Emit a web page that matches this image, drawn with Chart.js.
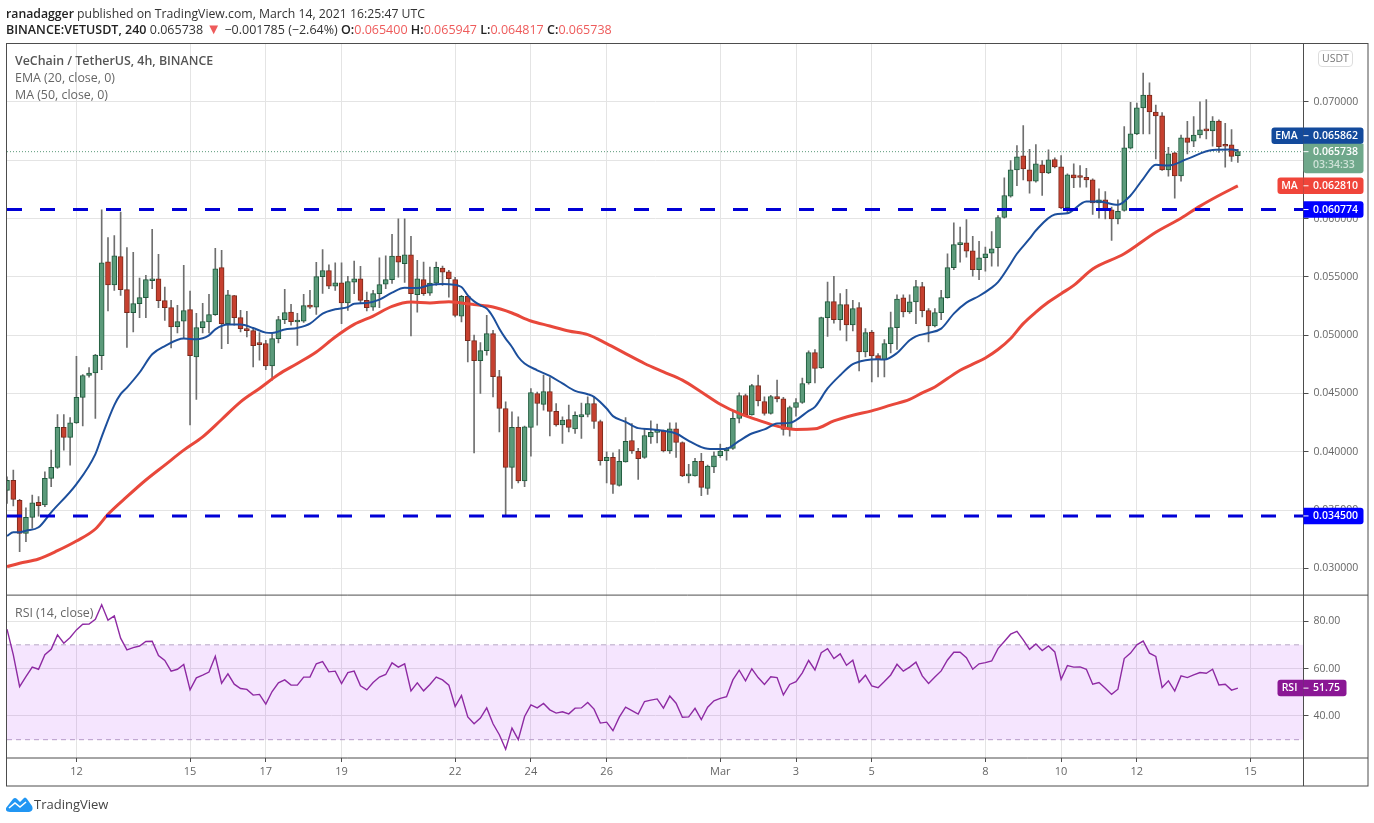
<!DOCTYPE html>
<html>
<head>
<meta charset="utf-8">
<title>VETUSDT</title>
<script src="https://cdn.jsdelivr.net/npm/chart.js@4"></script>
<style>
  html, body { margin: 0; padding: 0; background: #fff; }
  #wrap { position: relative; width: 1374px; height: 823px; overflow: hidden; font-family: "Open Sans", sans-serif; }
  canvas { position: absolute; left: 0; top: 0; }
  .txt { position: absolute; white-space: nowrap; line-height: 17px; font-size: 12.25px; color: #333; }
  .txt b { color: #222; font-weight: 600; }
  .red { color: #ee5b5b; }
  .tri { color: #ee5b5b; font-size: 15px; line-height: 10px; }
  .legend { color: #666; font-size: 12.4px; }
  .legend b { color: #555; }
  #usdt { position: absolute; left: 1318px; top: 50px; width: 33px; height: 15px; border: 1px solid #ddd; border-radius: 4px; font-size: 10.5px; line-height: 15px; text-align: center; color: #777; background: #fff; }
</style>
</head>
<body>
<div id="wrap">
  <canvas id="chart" width="1374" height="823"></canvas>
  <div class="txt" style="left:6px;top:4.5px"><b>ranadagger</b> published on TradingView.com, March 14, 2021 16:25:47 UTC</div>
  <div class="txt" style="left:6px;top:21px;font-size:12.5px"><b>BINANCE:VETUSDT, 240</b> 0.065738 <span class="tri">▼</span> −0.001785 (−2.64%) <b>O:</b><span class="red">0.065400</span> <b>H:</b><span class="red">0.065947</span> <b>L:</b><span class="red">0.064817</span> <b>C:</b><span class="red">0.065738</span></div>
  <div class="txt legend" style="left:15px;top:52px"><b>VeChain / TetherUS, 4h, BINANCE</b></div>
  <div class="txt legend" style="left:15px;top:69px">EMA (20, close, 0)</div>
  <div class="txt legend" style="left:15px;top:86px">MA (50, close, 0)</div>
  <div class="txt legend" style="left:15px;top:604px">RSI (14, close)</div>
  <div id="usdt">USDT</div>
  <svg style="position:absolute;left:6px;top:796px" width="27" height="17" viewBox="0 0 27 17">
    <path d="M0 12 L7 3 Q9 1 11 3 L14 6 L17 3 Q19 0 21 3 L26 10 Q28 15 23 16 L4 16 Q-1 16 0 12 Z" fill="#2196f3"/>
    <path d="M3 12 L9 7 L14 11 L20 6" stroke="#fff" stroke-width="1.6" fill="none"/>
  </svg>
  <div class="txt" style="left:34px;top:796px;font-size:13px;color:#444">TradingView</div>
</div>
<script>
// candle 0 is 12 Feb 00:00, one candle every 4h
const firstCandle = -11;

const opens = [
  0.03669,0.03755,0.03584,0.03301,0.03438,0.03567,0.03544,0.03772,0.03866,0.04209,
  0.04123,0.04248,0.04466,0.04654,0.04676,0.04825,0.05630,0.05430,0.05673,0.05390,
  0.05193,0.05270,0.05322,0.05467,0.05484,0.05296,0.05236,0.05074,0.05121,0.05219,
  0.04813,0.05065,0.05113,0.05176,0.05579,0.05099,0.05339,0.05151,0.05048,0.05039,
  0.04928,0.04928,0.04736,0.04971,0.05133,0.05198,0.05113,0.05121,0.05253,0.05241,
  0.05502,0.05553,0.05421,0.05450,0.05276,0.05455,0.05484,0.05299,0.05241,0.05356,
  0.05438,0.05476,0.05678,0.05613,0.05690,0.05347,0.05476,0.05361,0.05447,0.05575,
  0.05544,0.05476,0.05164,0.05333,0.04954,0.04782,0.04868,0.05014,0.04645,0.04371,
  0.03866,0.04209,0.03751,0.04209,0.04500,0.04406,0.04517,0.04346,0.04231,0.04277,
  0.04197,0.04300,0.04320,0.04414,0.04260,0.03923,0.03952,0.03712,0.03914,0.04097,
  0.04003,0.03952,0.04128,0.04166,0.04175,0.04008,0.04197,0.04080,0.03794,0.03794,
  0.03918,0.03686,0.03871,0.03966,0.04008,0.04029,0.04286,0.04483,0.04317,0.04568,
  0.04431,0.04329,0.04474,0.04454,0.04192,0.04380,0.04423,0.04591,0.04851,0.04719,
  0.05151,0.05288,0.05133,0.05262,0.05087,0.05236,0.04856,0.05027,0.04825,0.04791,
  0.04928,0.05065,0.05320,0.05200,0.05286,0.05416,0.05211,0.05079,0.05193,0.05322,
  0.05579,0.05776,0.05793,0.05724,0.05562,0.05664,0.05704,0.05750,0.06009,0.06192,
  0.06418,0.06538,0.06418,0.06320,0.06461,0.06392,0.06506,0.06443,0.06092,0.06375,
  0.06358,0.06354,0.06332,0.06135,0.06161,0.06075,0.05998,0.06069,0.06603,0.06726,
  0.06949,0.07060,0.06914,0.06880,0.06418,0.06563,0.06366,0.06692,0.06663,0.06717,
  0.06769,0.06752,0.06837,0.06628,0.06632,0.065400
];
const highs = [
  0.03786,0.03843,0.03592,0.03520,0.03629,0.03615,0.03829,0.04014,0.04320,0.04320,
  0.04294,0.04819,0.04663,0.04722,0.04836,0.06075,0.05838,0.05855,0.06055,0.05752,
  0.05710,0.05490,0.05513,0.05907,0.05693,0.05413,0.05299,0.05256,0.05598,0.05378,
  0.05187,0.05273,0.05350,0.05744,0.05727,0.05384,0.05342,0.05213,0.05204,0.05065,
  0.05022,0.04956,0.05008,0.05162,0.05393,0.05264,0.05187,0.05350,0.05384,0.05624,
  0.05735,0.05604,0.05621,0.05621,0.05504,0.05635,0.05590,0.05370,0.05384,0.05664,
  0.05681,0.05864,0.05998,0.05998,0.05847,0.05641,0.05627,0.05584,0.05627,0.05592,
  0.05556,0.05496,0.05342,0.05342,0.05000,0.04937,0.05170,0.05042,0.04699,0.04428,
  0.04342,0.04300,0.04220,0.04543,0.04513,0.04657,0.04637,0.04414,0.04300,0.04400,
  0.04342,0.04417,0.04471,0.04471,0.04271,0.04000,0.03991,0.04020,0.04294,0.04243,
  0.04029,0.04200,0.04265,0.04237,0.04186,0.04248,0.04248,0.04085,0.03892,0.03943,
  0.03986,0.03886,0.04000,0.04066,0.04038,0.04342,0.04505,0.04494,0.04579,0.04657,
  0.04471,0.04485,0.04614,0.04466,0.04391,0.04457,0.04633,0.04865,0.04877,0.05156,
  0.05455,0.05504,0.05356,0.05393,0.05299,0.05279,0.05056,0.05042,0.04842,0.04962,
  0.05198,0.05347,0.05346,0.05347,0.05470,0.05453,0.05228,0.05228,0.05384,0.05698,
  0.05964,0.05926,0.05992,0.05847,0.05804,0.05755,0.05889,0.06026,0.06349,0.06497,
  0.06626,0.06797,0.06594,0.06634,0.06497,0.06589,0.06521,0.06540,0.06384,0.06469,
  0.06455,0.06431,0.06341,0.06255,0.06232,0.06098,0.06161,0.06789,0.06996,0.06991,
  0.07248,0.07163,0.06974,0.06908,0.06611,0.06569,0.06717,0.06834,0.06874,0.07002,
  0.07020,0.06874,0.06846,0.06817,0.06763,0.065947
];
const lows = [
  0.03558,0.03535,0.03144,0.03229,0.03346,0.03449,0.03529,0.03700,0.03858,0.04014,
  0.03886,0.04243,0.04222,0.04639,0.04286,0.04705,0.05207,0.05384,0.05342,0.04894,
  0.05027,0.05151,0.05151,0.05399,0.05236,0.05127,0.04890,0.05019,0.04973,0.04231,
  0.04449,0.05019,0.05019,0.05170,0.04885,0.04928,0.05085,0.05027,0.04985,0.04728,
  0.04785,0.04705,0.04614,0.04933,0.05099,0.05085,0.04913,0.05110,0.05230,0.05179,
  0.05359,0.05399,0.05384,0.05099,0.05213,0.05356,0.05273,0.05207,0.05213,0.05236,
  0.05399,0.05444,0.05498,0.05453,0.04993,0.05198,0.05342,0.05342,0.05427,0.05427,
  0.05327,0.05156,0.05113,0.04770,0.03991,0.04500,0.04828,0.04471,0.04171,0.03458,
  0.03686,0.03734,0.03700,0.03963,0.04228,0.04357,0.04137,0.04220,0.04072,0.04171,
  0.04157,0.04115,0.04300,0.04200,0.03886,0.03734,0.03644,0.03706,0.03912,0.03986,
  0.03764,0.03943,0.04072,0.04077,0.04000,0.03986,0.03952,0.03786,0.03734,0.03792,
  0.03623,0.03635,0.03820,0.03952,0.03929,0.04020,0.04248,0.04306,0.04314,0.04394,
  0.04314,0.04323,0.04428,0.04143,0.04134,0.04306,0.04414,0.04579,0.04591,0.04714,
  0.04990,0.05104,0.05042,0.04950,0.05036,0.04693,0.04813,0.04599,0.04642,0.04642,
  0.04847,0.04877,0.05156,0.05187,0.05099,0.05156,0.04942,0.05070,0.05133,0.05318,
  0.05562,0.05627,0.05669,0.05507,0.05476,0.05550,0.05592,0.05592,0.06003,0.06183,
  0.06283,0.06332,0.06217,0.06312,0.06198,0.06384,0.06435,0.06084,0.06041,0.06264,
  0.06269,0.06269,0.06035,0.06003,0.05998,0.05812,0.05955,0.06063,0.06598,0.06720,
  0.06726,0.06726,0.06512,0.06412,0.06363,0.06175,0.06320,0.06555,0.06617,0.06692,
  0.06683,0.06620,0.06568,0.06440,0.06491,0.064817
];
const closes = [
  0.03755,0.03592,0.03301,0.03438,0.03563,0.03537,0.03772,0.03866,0.04209,0.04123,
  0.04248,0.04466,0.04654,0.04676,0.04830,0.05621,0.05430,0.05681,0.05390,0.05193,
  0.05270,0.05322,0.05476,0.05484,0.05296,0.05236,0.05070,0.05116,0.05211,0.04825,
  0.05065,0.05116,0.05176,0.05570,0.05099,0.05347,0.05151,0.05056,0.05039,0.04911,
  0.04919,0.04736,0.04971,0.05133,0.05193,0.05116,0.05119,0.05253,0.05241,0.05502,
  0.05553,0.05421,0.05450,0.05276,0.05459,0.05484,0.05299,0.05236,0.05356,0.05433,
  0.05476,0.05678,0.05627,0.05690,0.05356,0.05484,0.05356,0.05447,0.05581,0.05541,
  0.05484,0.05170,0.05333,0.04954,0.04782,0.04868,0.05014,0.04645,0.04371,0.03866,
  0.04209,0.03751,0.04214,0.04508,0.04414,0.04517,0.04346,0.04231,0.04271,0.04209,
  0.04312,0.04320,0.04414,0.04260,0.03923,0.03952,0.03721,0.03918,0.04089,0.04008,
  0.03940,0.04140,0.04166,0.04186,0.04008,0.04197,0.04080,0.03794,0.03800,0.03918,
  0.03695,0.03877,0.03966,0.04006,0.04029,0.04286,0.04483,0.04317,0.04568,0.04437,
  0.04329,0.04474,0.04454,0.04192,0.04380,0.04423,0.04586,0.04851,0.04714,0.05151,
  0.05288,0.05133,0.05262,0.05087,0.05228,0.04856,0.05022,0.04822,0.04791,0.04928,
  0.05065,0.05310,0.05200,0.05286,0.05416,0.05211,0.05079,0.05193,0.05322,0.05579,
  0.05776,0.05782,0.05721,0.05562,0.05664,0.05698,0.05741,0.06009,0.06198,0.06418,
  0.06529,0.06426,0.06320,0.06469,0.06392,0.06503,0.06443,0.06092,0.06375,0.06349,
  0.06352,0.06332,0.06135,0.06161,0.06075,0.05998,0.06063,0.06606,0.06726,0.06949,
  0.07060,0.06914,0.06880,0.06418,0.06555,0.06366,0.06692,0.06654,0.06717,0.06760,
  0.06752,0.06837,0.06617,0.06620,0.06534,0.065738
];

// EMA and MA at the candles where they bend
const emaX = [-11,-10,-9,-8,-6,-4,0,3,4,6,7,8,10,12,14,17,19,21,22,24,26,28,30,31,33,35,37,39,41,43,44,46,48,50,52,54,56,58,59,61,62,63,64,65,66,67,68,69,70,71,73,75,77,79,81,82,84,85,87,89,91,93,95,97,99,100,102,103,105,107,109,111,113,114,116,117,119,121,123,125,127,128,130,132,133,135,137,139,141,143,145,146,148,149,151,152,155,157,160,162,165,167,169,171,173,176,180,183,184];
const emaValues = [0.03278,0.03310,0.03310,0.03323,0.03353,0.03481,0.03723,0.03980,0.04128,0.04400,0.04494,0.04551,0.04680,0.04836,0.04907,0.04971,0.04965,0.04999,0.05050,0.05091,0.05091,0.05062,0.05022,0.05019,0.05048,0.05062,0.05099,0.05185,0.05222,0.05241,0.05270,0.05276,0.05305,0.05365,0.05407,0.05404,0.05430,0.05438,0.05436,0.05413,0.05342,0.05290,0.05256,0.05228,0.05156,0.05056,0.04971,0.04899,0.04813,0.04757,0.04699,0.04651,0.04586,0.04522,0.04494,0.04471,0.04371,0.04306,0.04257,0.04203,0.04194,0.04180,0.04157,0.04094,0.04040,0.04026,0.04023,0.04026,0.04094,0.04157,0.04192,0.04243,0.04248,0.04271,0.04351,0.04385,0.04543,0.04657,0.04751,0.04785,0.04794,0.04791,0.04847,0.04956,0.04990,0.05019,0.05056,0.05185,0.05279,0.05336,0.05408,0.05455,0.05613,0.05698,0.05827,0.05898,0.06035,0.06046,0.06146,0.06146,0.06118,0.06198,0.06341,0.06461,0.06455,0.06512,0.06589,0.06592,0.065862];
const maX = [-11,-9,-6,-3,0,3,5,8,11,14,17,20,23,26,29,32,35,38,41,44,47,50,53,56,59,61,63,66,69,72,75,78,81,84,87,90,93,96,99,102,105,108,111,114,117,120,123,126,129,132,134,136,138,140,142,144,146,148,150,152,154,156,158,161,166,171,175,178,181,184];
const maValues = [0.03015,0.03044,0.03081,0.03152,0.03235,0.03338,0.03464,0.03615,0.03758,0.03886,0.04014,0.04128,0.04277,0.04428,0.04543,0.04663,0.04757,0.04856,0.04985,0.05093,0.05164,0.05247,0.05284,0.05276,0.05287,0.05276,0.05262,0.05241,0.05190,0.05122,0.05079,0.05036,0.05005,0.04928,0.04842,0.04757,0.04685,0.04614,0.04513,0.04408,0.04329,0.04271,0.04220,0.04192,0.04197,0.04265,0.04314,0.04351,0.04400,0.04449,0.04505,0.04556,0.04628,0.04699,0.04751,0.04805,0.04877,0.04971,0.05099,0.05198,0.05284,0.05356,0.05427,0.05568,0.05698,0.05883,0.06003,0.06107,0.06198,0.06281];

const rsiValues = [
  76.6,65.8,52.4,56.6,60.6,59.7,65.8,68.1,74.2,70.7,
  73.1,76.3,78.7,78.8,80.8,86.9,80.4,82.2,72.8,67.9,
  68.8,69.5,71.4,71.5,65.5,63.4,58.9,59.7,61.7,51.0,
  56.1,57.2,58.5,65.2,53.8,57.8,53.4,51.6,51.2,48.8,
  49.1,45.0,50.3,54.0,55.2,53.0,53.0,56.4,56.4,62.0,
  62.9,58.6,58.9,53.7,58.3,58.9,52.7,51.0,54.1,56.4,
  57.5,62.4,60.6,62.0,50.6,54.0,50.6,53.3,56.4,55.2,
  53.0,44.0,48.6,39.6,36.7,39.1,43.4,36.7,32.1,26.0,
  34.9,30.0,39.8,44.7,43.4,45.3,42.6,41.2,41.8,40.9,
  43.3,43.4,45.7,42.9,37.0,37.4,33.8,39.5,43.7,42.3,
  40.8,46.1,46.7,47.2,43.3,48.4,45.4,39.5,39.6,43.2,
  38.5,43.7,46.4,47.4,48.1,55.2,59.3,54.8,59.9,56.2,
  53.3,56.5,56.2,48.9,53.3,54.5,58.2,63.4,59.4,66.7,
  68.4,64.2,66.2,61.4,63.5,54.2,57.2,52.7,51.9,54.5,
  57.3,61.8,58.9,60.6,62.7,56.9,53.7,56.4,59.0,63.6,
  66.9,66.9,64.6,59.7,62.0,62.5,63.2,68.4,71.4,74.5,
  75.7,72.1,68.1,70.4,67.6,69.5,67.0,55.5,61.3,60.6,
  60.7,59.7,53.4,54.1,51.7,49.1,51.3,64.2,66.5,70.0,
  71.6,66.5,65.1,52.0,54.8,50.5,56.9,56.2,57.3,58.3,
  58.0,59.7,53.1,53.4,50.9,51.75
];

const supportLevels = [0.060774, 0.034500];
const lastPrice = 0.065738;
const lastEma = 0.065862;
const lastMa = 0.062810;
const lastRsi = 51.75;
const countdown = '03:34:33';

const priceTicks = [0.030, 0.035, 0.040, 0.045, 0.050, 0.055, 0.060, 0.065, 0.070];
const rsiTicks = [40, 60, 80];
const rsiBand = [30, 70];
const dateTicks = [0, 18, 30, 42, 60, 72, 84, 102, 114, 126, 144, 156, 168, 186];
const dateLabels = ['12', '15', '17', '19', '22', '24', '26', 'Mar', '3', '5', '8', '10', '12', '15'];

const xMin = firstCandle;
const xMax = 194.4;

const candleX = opens.map((_, k) => k + firstCandle);
const isUp = opens.map((o, k) => closes[k] >= o);
const pts = (xs, ys) => xs.map((x, k) => ({ x: x, y: ys[k] }));
const flat = (y) => [{ x: xMin, y: y }, { x: xMax, y: y }];
const FONT = '"Open Sans", sans-serif';

// frame lines and the coloured price tags on the right axis
const framePlugin = {
  id: 'frame',
  afterDraw(chart) {
    const { ctx, chartArea: a, scales } = chart;
    const outerRight = a.right + 64.5;
    const outerBottom = a.bottom + 28;
    ctx.save();
    ctx.strokeStyle = '#4d4d4d';
    ctx.lineWidth = 1;
    ctx.strokeRect(a.left - 0.5, a.top - 0.5, outerRight - a.left + 0.5, outerBottom - a.top + 0.5);
    ctx.beginPath();
    ctx.moveTo(a.right, a.top); ctx.lineTo(a.right, outerBottom);
    ctx.moveTo(a.left, scales.y.bottom); ctx.lineTo(outerRight, scales.y.bottom);
    ctx.moveTo(a.left, a.bottom); ctx.lineTo(outerRight, a.bottom);
    ctx.stroke();

    const tag = (name, value, y, color, w, nameW) => {
      const h = 16.5;
      ctx.fillStyle = color;
      if (name) {
        ctx.beginPath();
        ctx.roundRect(a.right - nameW, y - h / 2, nameW, h, [3, 0, 0, 3]);
        ctx.fill();
      }
      ctx.beginPath();
      ctx.roundRect(a.right, y - h / 2, w, h, [0, 3, 3, 0]);
      ctx.fill();
      ctx.fillStyle = '#fff';
      ctx.fillRect(a.right, y - 0.5, 5, 1);
      ctx.font = '600 10.5px ' + FONT;
      ctx.textBaseline = 'middle';
      ctx.textAlign = 'left';
      ctx.fillText(value, a.right + 9.5, y);
      if (name) {
        ctx.textAlign = 'center';
        ctx.fillText(name, a.right - nameW / 2 - 1, y);
      }
    };

    const py = (v) => scales.y.getPixelForValue(v);
    const lastY = py(lastPrice);
    tag('EMA', lastEma.toFixed(6), lastY - 16, '#134a9c', 60, 32);
    ctx.fillStyle = '#6fa88b';
    ctx.beginPath();
    ctx.roundRect(a.right, lastY - 8, 60, 29.5, [0, 0, 3, 3]);
    ctx.fill();
    ctx.fillStyle = '#fff';
    ctx.fillRect(a.right, lastY - 0.5, 5, 1);
    ctx.font = '600 10.5px ' + FONT;
    ctx.textAlign = 'left';
    ctx.textBaseline = 'middle';
    ctx.fillText(lastPrice.toFixed(6), a.right + 9.5, lastY);
    ctx.fillStyle = '#cfe3d8';
    ctx.fillText(countdown, a.right + 9.5, lastY + 13);
    tag('MA', lastMa.toFixed(6), py(lastMa), '#f0453a', 60, 26);
    tag('', supportLevels[0].toFixed(6), py(supportLevels[0]), '#0000ff', 60, 0);
    tag('', supportLevels[1].toFixed(6), py(supportLevels[1]), '#0000ff', 60, 0);
    tag('RSI', lastRsi.toFixed(2), scales.yRsi.getPixelForValue(lastRsi), '#8a1794', 43, 26);
    ctx.restore();
  }
};

const gridColor = '#e4e4e4';
const tickColor = '#666666';

new Chart(document.getElementById('chart').getContext('2d'), {
  type: 'bar',
  data: {
    datasets: [
      {
        label: 'Wicks',
        data: candleX.map((x, k) => ({ x: x, y: [lows[k], highs[k]] })),
        backgroundColor: '#6f6f6f',
        barThickness: 1,
        grouped: false,
        yAxisID: 'y',
        order: 6
      },
      {
        label: 'Bodies',
        data: candleX.map((x, k) => ({ x: x, y: [opens[k], closes[k]] })),
        backgroundColor: isUp.map(u => u ? '#5b9a7a' : '#c6402f'),
        borderColor: isUp.map(u => u ? '#1f5a3c' : '#7a2a1c'),
        borderWidth: 1,
        borderSkipped: false,
        barThickness: 5,
        minBarLength: 2,
        grouped: false,
        yAxisID: 'y',
        order: 5
      },
      {
        type: 'line', label: 'MA 50', data: pts(maX, maValues), borderColor: '#e8483b',
        borderWidth: 3, pointRadius: 0, cubicInterpolationMode: 'monotone', yAxisID: 'y', order: 4
      },
      {
        type: 'line', label: 'EMA 20', data: pts(emaX, emaValues), borderColor: '#1c4f9c',
        borderWidth: 2, pointRadius: 0, cubicInterpolationMode: 'monotone', yAxisID: 'y', order: 3
      },
      {
        type: 'line', label: 'Last', data: flat(lastPrice), borderColor: '#5b9a7a',
        borderWidth: 1, borderDash: [1, 2], pointRadius: 0, yAxisID: 'y', order: 7
      },
      {
        type: 'line', label: 'Level high', data: flat(supportLevels[0]), borderColor: '#0000d6',
        borderWidth: 3, borderDash: [15, 18], pointRadius: 0, yAxisID: 'y', order: 2
      },
      {
        type: 'line', label: 'Level low', data: flat(supportLevels[1]), borderColor: '#0000d6',
        borderWidth: 3, borderDash: [15, 18], pointRadius: 0, yAxisID: 'y', order: 2
      },
      {
        type: 'line', label: 'RSI upper', data: flat(rsiBand[1]), borderColor: '#b7a6c4',
        borderWidth: 1, borderDash: [5, 4], pointRadius: 0, yAxisID: 'yRsi',
        fill: '+1', backgroundColor: 'rgba(172,39,247,0.12)', order: 9
      },
      {
        type: 'line', label: 'RSI lower', data: flat(rsiBand[0]), borderColor: '#b7a6c4',
        borderWidth: 1, borderDash: [5, 4], pointRadius: 0, yAxisID: 'yRsi', order: 9
      },
      {
        type: 'line', label: 'RSI', data: pts(candleX, rsiValues), borderColor: '#8e2aa3',
        borderWidth: 1.4, pointRadius: 0, yAxisID: 'yRsi', order: 1
      }
    ]
  },
  options: {
    responsive: false,
    animation: false,
    events: [],
    layout: { padding: { left: 7, top: 44, right: 6.5, bottom: 37 } },
    plugins: { legend: { display: false }, tooltip: { enabled: false } },
    scales: {
      x: {
        type: 'linear',
        min: xMin,
        max: xMax,
        offset: false,
        grid: { color: gridColor, offset: false, tickLength: 4, tickColor: '#4d4d4d' },
        border: { display: false },
        afterBuildTicks: (s) => { s.ticks = dateTicks.map(v => ({ value: v })); },
        afterFit: (s) => { s.height = 28; },
        ticks: {
          autoSkip: false, maxRotation: 0, color: tickColor, padding: 3,
          font: { family: FONT, size: 11 },
          callback: (v) => dateLabels[dateTicks.indexOf(v)]
        }
      },
      y: {
        position: 'right',
        stack: 'panes',
        stackWeight: 551.5,
        min: 0.02771,
        max: 0.07497,
        grid: { color: gridColor, tickLength: 5, tickColor: '#4d4d4d' },
        border: { display: false },
        afterBuildTicks: (s) => { s.ticks = priceTicks.map(v => ({ value: v })); },
        afterFit: (s) => { s.width = 64; },
        ticks: {
          color: tickColor, padding: 5, font: { family: FONT, size: 10.5 },
          callback: (v) => v.toFixed(6)
        }
      },
      yRsi: {
        position: 'right',
        stack: 'panes',
        stackWeight: 163,
        min: 22.28,
        max: 90.97,
        grid: { color: gridColor, tickLength: 5, tickColor: '#4d4d4d' },
        border: { display: false },
        afterBuildTicks: (s) => { s.ticks = rsiTicks.map(v => ({ value: v })); },
        afterFit: (s) => { s.width = 64; },
        ticks: {
          color: tickColor, padding: 5, font: { family: FONT, size: 10.5 },
          callback: (v) => v.toFixed(2)
        }
      }
    }
  },
  plugins: [framePlugin]
});
</script>
</body>
</html>
